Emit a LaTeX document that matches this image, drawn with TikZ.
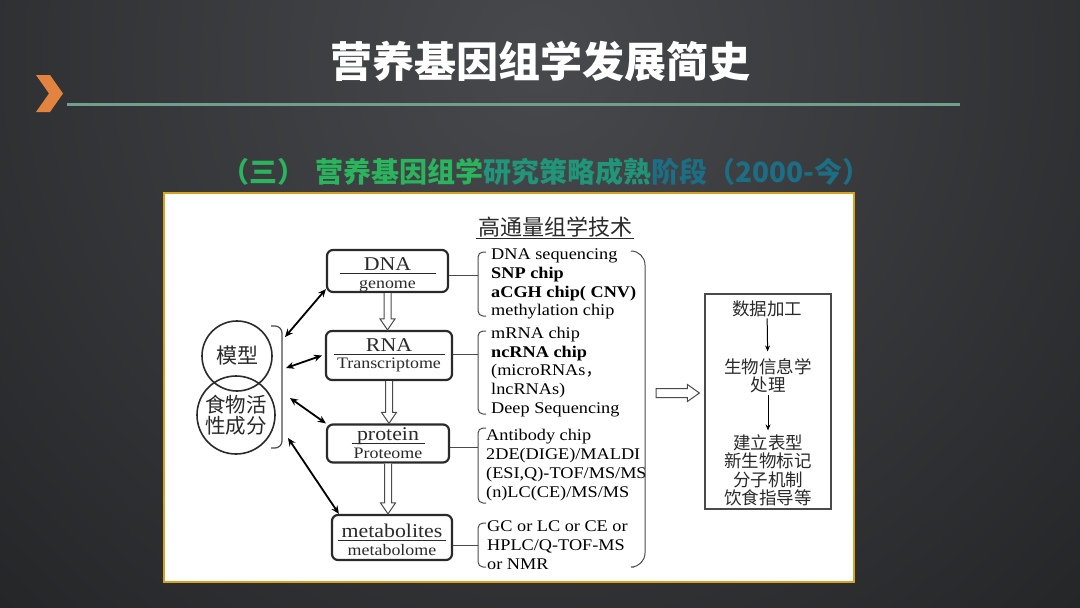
\documentclass[tikz,border=0pt]{standalone}
\usepackage{fontspec}
\setmainfont[FakeStretch=1.12]{Liberation Serif}
\newfontfamily\cjk{Noto Sans CJK SC}
\usetikzlibrary{arrows.meta, positioning, calc}
\definecolor{cBack}{HTML}{1F2022}
\definecolor{cBackLight}{HTML}{47494C}
\definecolor{cOrange}{HTML}{E2843F}
\definecolor{cRule}{HTML}{6FA08F}
\definecolor{cGold}{HTML}{D9A21C}
\definecolor{cSubA}{HTML}{2BB45E}
\definecolor{cSubB}{HTML}{20957A}
\definecolor{cSubC}{HTML}{1B6E83}
\definecolor{cInk}{HTML}{2A2A2A}
\setlength{\arrayrulewidth}{1pt}

% box label: title, rule, subtitle (optional: trailing skip)
\newcommand{\omlabel}[4][-8pt]{%
  \begin{tabular}{@{}c@{}}\makebox[#2]{\fontsize{19.5}{20}\selectfont #3}\\[-1pt]\hline
  \rule{0pt}{14pt}\fontsize{16}{17}\selectfont #4\\[#1]\end{tabular}}

% hollow arrow pointing down from node #1 to node #2
\newcommand{\hollowdown}[2]{%
  \draw[hollow] let \p1=(#1.south), \p2=(#2.north) in
    (\x1-3.5pt,\y1) -- (\x1-3.5pt,\y2+11pt) -- (\x1-7.5pt,\y2+11pt) -- (\x1,\y2)
    -- (\x1+7.5pt,\y2+11pt) -- (\x1+3.5pt,\y2+11pt) -- (\x1+3.5pt,\y1);}

\begin{document}
\begin{tikzpicture}[
  x=1pt, y=-1pt,
  omics/.style={draw=cInk, line width=2.2pt, rounded corners=6pt, fill=white,
    inner sep=0pt, align=center, text=cInk},
  techlist/.style={anchor=west, align=left, inner sep=0pt, text=black,
    font=\fontsize{16.3}{18.8}\selectfont},
  brk/.style={draw=cInk!85, line width=1pt, rounded corners=5pt},
  hollow/.style={draw=cInk!85, line width=1pt, fill=white},
  link/.style={line width=1.8pt, {Stealth[length=8pt,width=7pt]}-{Stealth[length=8pt,width=7pt]}},
  flow/.style={line width=1pt, -{Stealth[length=6pt,width=5pt]}},
  cjktext/.style={font=\cjk\fontsize{17.5}{18.5}\selectfont, align=center,
    text=cInk, inner sep=1pt}
]
  \useasboundingbox (0,0) rectangle (1080,608);

  % background
  \begin{scope}
    \clip (0,0) rectangle (1080,608);
    \fill[cBack] (0,0) rectangle (1080,608);
    \shade[inner color=cBackLight, outer color=cBack] (540,60) circle (900);
  \end{scope}

  % title bar
  \node[font=\cjk\bfseries\fontsize{42}{44}\selectfont, text=white] (title) at (540,62) {营养基因组学发展简史};
  \fill[cOrange] (36,75) -- (50,75) -- (63,93.5) -- (50,112) -- (36,112) -- (49,93.5) -- cycle;
  \draw[cRule, line width=3pt] (67,104.5) -- (960,104.5);

  \node[font=\cjk\bfseries\fontsize{28}{30}\selectfont] (subtitle) at (546,172)
    {\textcolor{cSubA}{（三）\hspace{10pt}营养基因组学}\textcolor{cSubB}{研究策略成熟}\textcolor{cSubC}{阶段（2000-今）}};

  % panel
  \draw[cGold, line width=2pt, fill=white] (164,193) rectangle (854,582);

  % omics levels
  \node[omics, minimum width=121, minimum height=42] (dna) at (387.5,271) {\omlabel{96pt}{DNA}{genome}};
  \node[omics, minimum width=126, minimum height=49] (rna) at (389,355.5) {\omlabel[0pt]{111pt}{RNA}{Transcriptome}};
  \node[omics, minimum width=122, minimum height=38] (prot) at (388,443.5) {\omlabel[-2pt]{73pt}{protein}{Proteome}};
  \node[omics, minimum width=120, minimum height=45] (met) at (392,537.5) {\omlabel{108pt}{metabolites}{metabolome}};

  \hollowdown{dna}{rna}
  \hollowdown{rna}{prot}
  \hollowdown{prot}{met}

  % models and food components
  \node[draw=cInk, line width=1.6pt, circle, minimum size=70, inner sep=0pt,
    font=\cjk\fontsize{21}{22}\selectfont, text=cInk] (model) at (237,356) {模型};
  \node[draw=cInk, line width=1.6pt, circle, minimum size=78, inner sep=0pt, align=center,
    font=\cjk\fontsize{20.5}{21}\selectfont, text=cInk] (food) at (236,415) {食物活\\性成分};
  \draw[brk, line width=1.2pt, rounded corners=7pt] (271,326) -- (282,326) -- (282,448) -- (271,448);
  \coordinate (m1) at (285,337);
  \coordinate (m2) at (286,368);
  \coordinate (m3) at (290,398);
  \coordinate (m4) at (288,438);
  \draw[link] (m1) -- ([yshift=4pt]dna.south west);
  \draw[link] (m2) -- ([xshift=-3pt]rna.west);
  \draw[link] (m3) -- (prot.north west);
  \draw[link] (m4) -- ([xshift=8pt]met.north west);

  % high-throughput techniques
  \node[font=\cjk\fontsize{22}{23}\selectfont, text=cInk, inner sep=1.5pt] (hdr) at (555,227) {高通量组学技术};
  \draw[cInk, line width=0.9pt] (hdr.south west) -- (hdr.south east);

  \node[techlist] (tdna) at (491,284) {DNA sequencing\\\textbf{SNP chip}\\\textbf{aCGH chip( CNV)}\\methylation chip};
  \node[techlist] (trna) at (491,372) {mRNA chip\\\textbf{ncRNA chip}\\(microRNAs{\cjk ，}\\lncRNAs)\\Deep Sequencing};
  \node[techlist] (tprot) at (486,465) {Antibody chip\\2DE(DIGE)/MALDI\\(ESI,Q)-TOF/MS/MS\\(n)LC(CE)/MS/MS};
  \node[techlist] (tmet) at (487,545) {GC or LC or CE or\\HPLC/Q-TOF-MS\\or NMR};

  \draw[brk] (486,252) -- (478,252) -- (478,316) -- (486,316);
  \draw[brk] (486,331) -- (478,331) -- (478,414) -- (486,414);
  \draw[brk] (486,428) -- (478,428) -- (478,503) -- (486,503);
  \draw[brk] (486,523) -- (478,523) -- (478,567) -- (486,567);
  \coordinate (bdna) at (478,275);
  \coordinate (brna) at (478,354);
  \coordinate (bprot) at (478,447);
  \coordinate (bmet) at (478,545);
  \draw[cInk!85, line width=1pt] (dna.east |- bdna) -- (bdna);
  \draw[cInk!85, line width=1pt] (rna.east |- brna) -- (brna);
  \draw[cInk!85, line width=1pt] (prot.east |- bprot) -- (bprot);
  \draw[cInk!85, line width=1pt] (met.east |- bmet) -- (bmet);

  \draw[brk, rounded corners=14pt] (632,251) -- (645,251) -- (645,567) -- (634,567);
  \coordinate (rb) at (656,393);

  % data processing
  \node[draw=cInk!85, line width=1.2pt, minimum width=126, minimum height=215] (proc) at (768,401.5) {};
  \draw[hollow] let \p1=(rb), \p2=(proc.west) in
    (\x1,\y1+4.5pt) -- (\x2-17pt,\y1+4.5pt) -- (\x2-17pt,\y1+8.5pt) -- (\x2-5pt,\y1)
    -- (\x2-17pt,\y1-8.5pt) -- (\x2-17pt,\y1-4.5pt) -- (\x1,\y1-4.5pt) -- cycle;

  \node[cjktext] (p1) at (767,309) {数据加工};
  \node[cjktext] (p2) at (768,376) {生物信息学\\处理};
  \node[cjktext] (p3) at (768,470.5) {建立表型\\新生物标记\\分子机制\\饮食指导等};
  \draw[flow, shorten >=6pt] (p1) -- (p2);
  \draw[flow, shorten >=3pt] (p2) -- (p3);

\end{tikzpicture}
\end{document}
